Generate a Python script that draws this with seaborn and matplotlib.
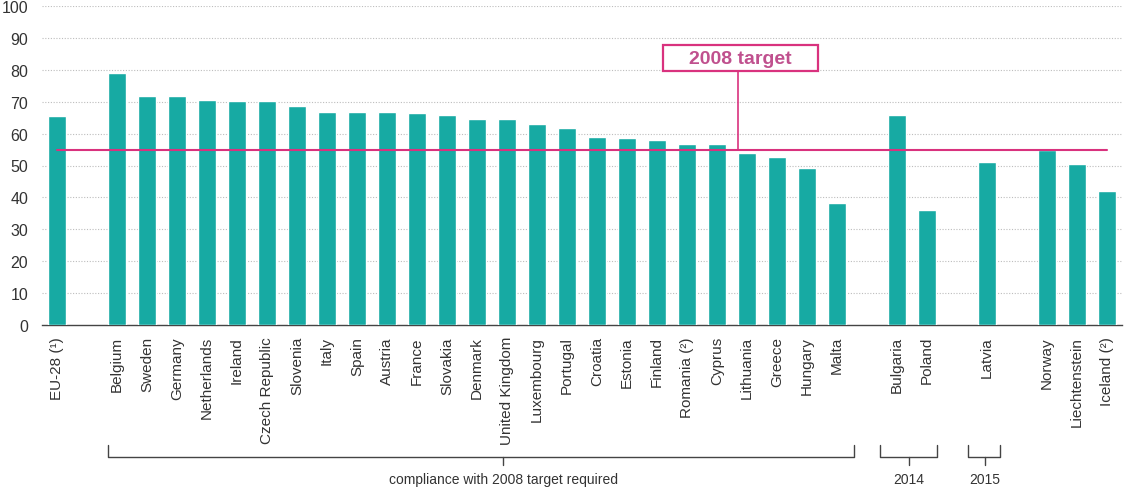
import matplotlib
matplotlib.use("Agg")
import matplotlib.pyplot as plt
import matplotlib.transforms as mtransforms
from matplotlib.patches import Rectangle
import seaborn as sns
import pandas as pd
import numpy as np

# ---- data ----
group_eu = ["EU-28 (¹)"]
group_2008 = ["Belgium", "Sweden", "Germany", "Netherlands", "Ireland", "Czech Republic",
              "Slovenia", "Italy", "Spain", "Austria", "France", "Slovakia", "Denmark",
              "United Kingdom", "Luxembourg", "Portugal", "Croatia", "Estonia", "Finland",
              "Romania (²)", "Cyprus", "Lithuania", "Greece", "Hungary", "Malta"]
group_2014 = ["Bulgaria", "Poland"]
group_2015 = ["Latvia"]
group_efta = ["Norway", "Liechtenstein", "Iceland (²)"]

values_eu = [65.5]
values_2008 = [79.0, 71.8, 71.8, 70.5, 70.2, 70.2, 68.7, 66.8, 66.8, 66.8, 66.4, 65.9,
               64.7, 64.5, 63.0, 61.9, 58.8, 58.5, 58.1, 56.7, 56.7, 53.8, 52.6, 49.1, 38.2]
values_2014 = [65.8, 36.1]
values_2015 = [51.2]
values_efta = [55.0, 50.5, 42.0]

target_2008 = 55
target_label = "2008 target"
bracket_labels = ["compliance with 2008 target required", "2014", "2015"]
y_ticks = [0, 10, 20, 30, 40, 50, 60, 70, 80, 90, 100]

# ---- build positions with a one-slot gap between groups ----
groups = [(group_eu, values_eu), (group_2008, values_2008), (group_2014, values_2014),
          (group_2015, values_2015), (group_efta, values_efta)]
rows = []
pos = 0
group_span = []
for names, vals in groups:
    start = pos
    for n, v in zip(names, vals):
        rows.append({"country": n, "pos": pos, "value": v})
        pos += 1
    group_span.append((start, pos - 1))
    pos += 1
df = pd.DataFrame(rows)
n_slots = pos - 1

bar_color = "#17aaa3"
pink = "#d9327e"

sns.set_theme(style="white")
plt.rcParams["font.family"] = ["Liberation Sans", "DejaVu Sans"]

fig = plt.figure(figsize=(11.27, 4.89), dpi=100)
ax = fig.add_axes([42 / 1127, 1 - 326 / 489, (1122 - 42) / 1127, (326 - 7) / 489])

sns.barplot(data=df, x="pos", y="value", native_scale=True, color=bar_color,
            saturation=1, width=0.6, ax=ax, zorder=3)

ax.set_xlim(-0.5, n_slots - 0.5)
ax.set_ylim(0, 100)
ax.set_yticks(y_ticks)
ax.set_yticklabels([str(t) for t in y_ticks], fontsize=11.5, color="#333333")
ax.tick_params(axis="y", length=0, pad=10)
for y in y_ticks[1:]:
    ax.axhline(y, color="#bdbdbd", linestyle=(0, (1, 1.5)), linewidth=0.8, zorder=1)

ax.set_xticks(df["pos"])
ax.set_xticklabels(df["country"], rotation=90, fontsize=11, color="#333333")
ax.tick_params(axis="x", which="major", length=0, pad=8)
ax.set_xticks(np.arange(-0.5, n_slots, 1.0), minor=True)
ax.tick_params(axis="x", which="minor", length=4, width=0.9, color="#444444", direction="out")
ax.set_xlabel("")
ax.set_ylabel("")

for s in ["top", "right", "left"]:
    ax.spines[s].set_visible(False)
ax.spines["bottom"].set_color("#444444")
ax.spines["bottom"].set_linewidth(1.0)

# target line
first, last = df["pos"].min(), df["pos"].max()
ax.plot([first, last], [target_2008, target_2008], color=pink, linewidth=1.5, zorder=4)
# label box and connector
lx = 22.7
box_x0, box_x1 = 20.19, 25.38
box_y0, box_y1 = 79.5, 87.8
ax.plot([lx, lx], [target_2008, box_y0], color=pink, linewidth=1.2, zorder=4)
ax.add_patch(Rectangle((box_x0, box_y0), box_x1 - box_x0, box_y1 - box_y0,
                       facecolor="white", edgecolor=pink, linewidth=1.6, zorder=5))
ax.text((box_x0 + box_x1) / 2, (box_y0 + box_y1) / 2, target_label, ha="center",
        va="center", fontsize=14, fontweight="bold", color="#c0508e", zorder=6)

# brackets below axis
trans = mtransforms.blended_transform_factory(ax.transData, fig.transFigure)
def fy(py):
    return 1 - py / 489

bracket_specs = [
    (group_span[1][0] - 0.3, group_span[1][1] + 0.55, 14.87, bracket_labels[0]),
    (group_span[2][0] - 0.57, group_span[2][1] + 0.33, 28.4, bracket_labels[1]),
    (group_span[3][0] - 0.63, group_span[3][1] + 0.43, 30.93, bracket_labels[2]),
]
for x0, x1, xm, lab in bracket_specs:
    ax.plot([x0, x0, x1, x1], [fy(446), fy(458), fy(458), fy(446)], transform=trans,
            color="#444444", linewidth=1.0, clip_on=False)
    ax.plot([xm, xm], [fy(458), fy(466)], transform=trans, color="#444444",
            linewidth=1.0, clip_on=False)
    ax.text(xm, fy(487), lab, transform=trans, ha="center", va="bottom", fontsize=10,
            color="#333333", clip_on=False)

fig.savefig("out.png", dpi=100)
